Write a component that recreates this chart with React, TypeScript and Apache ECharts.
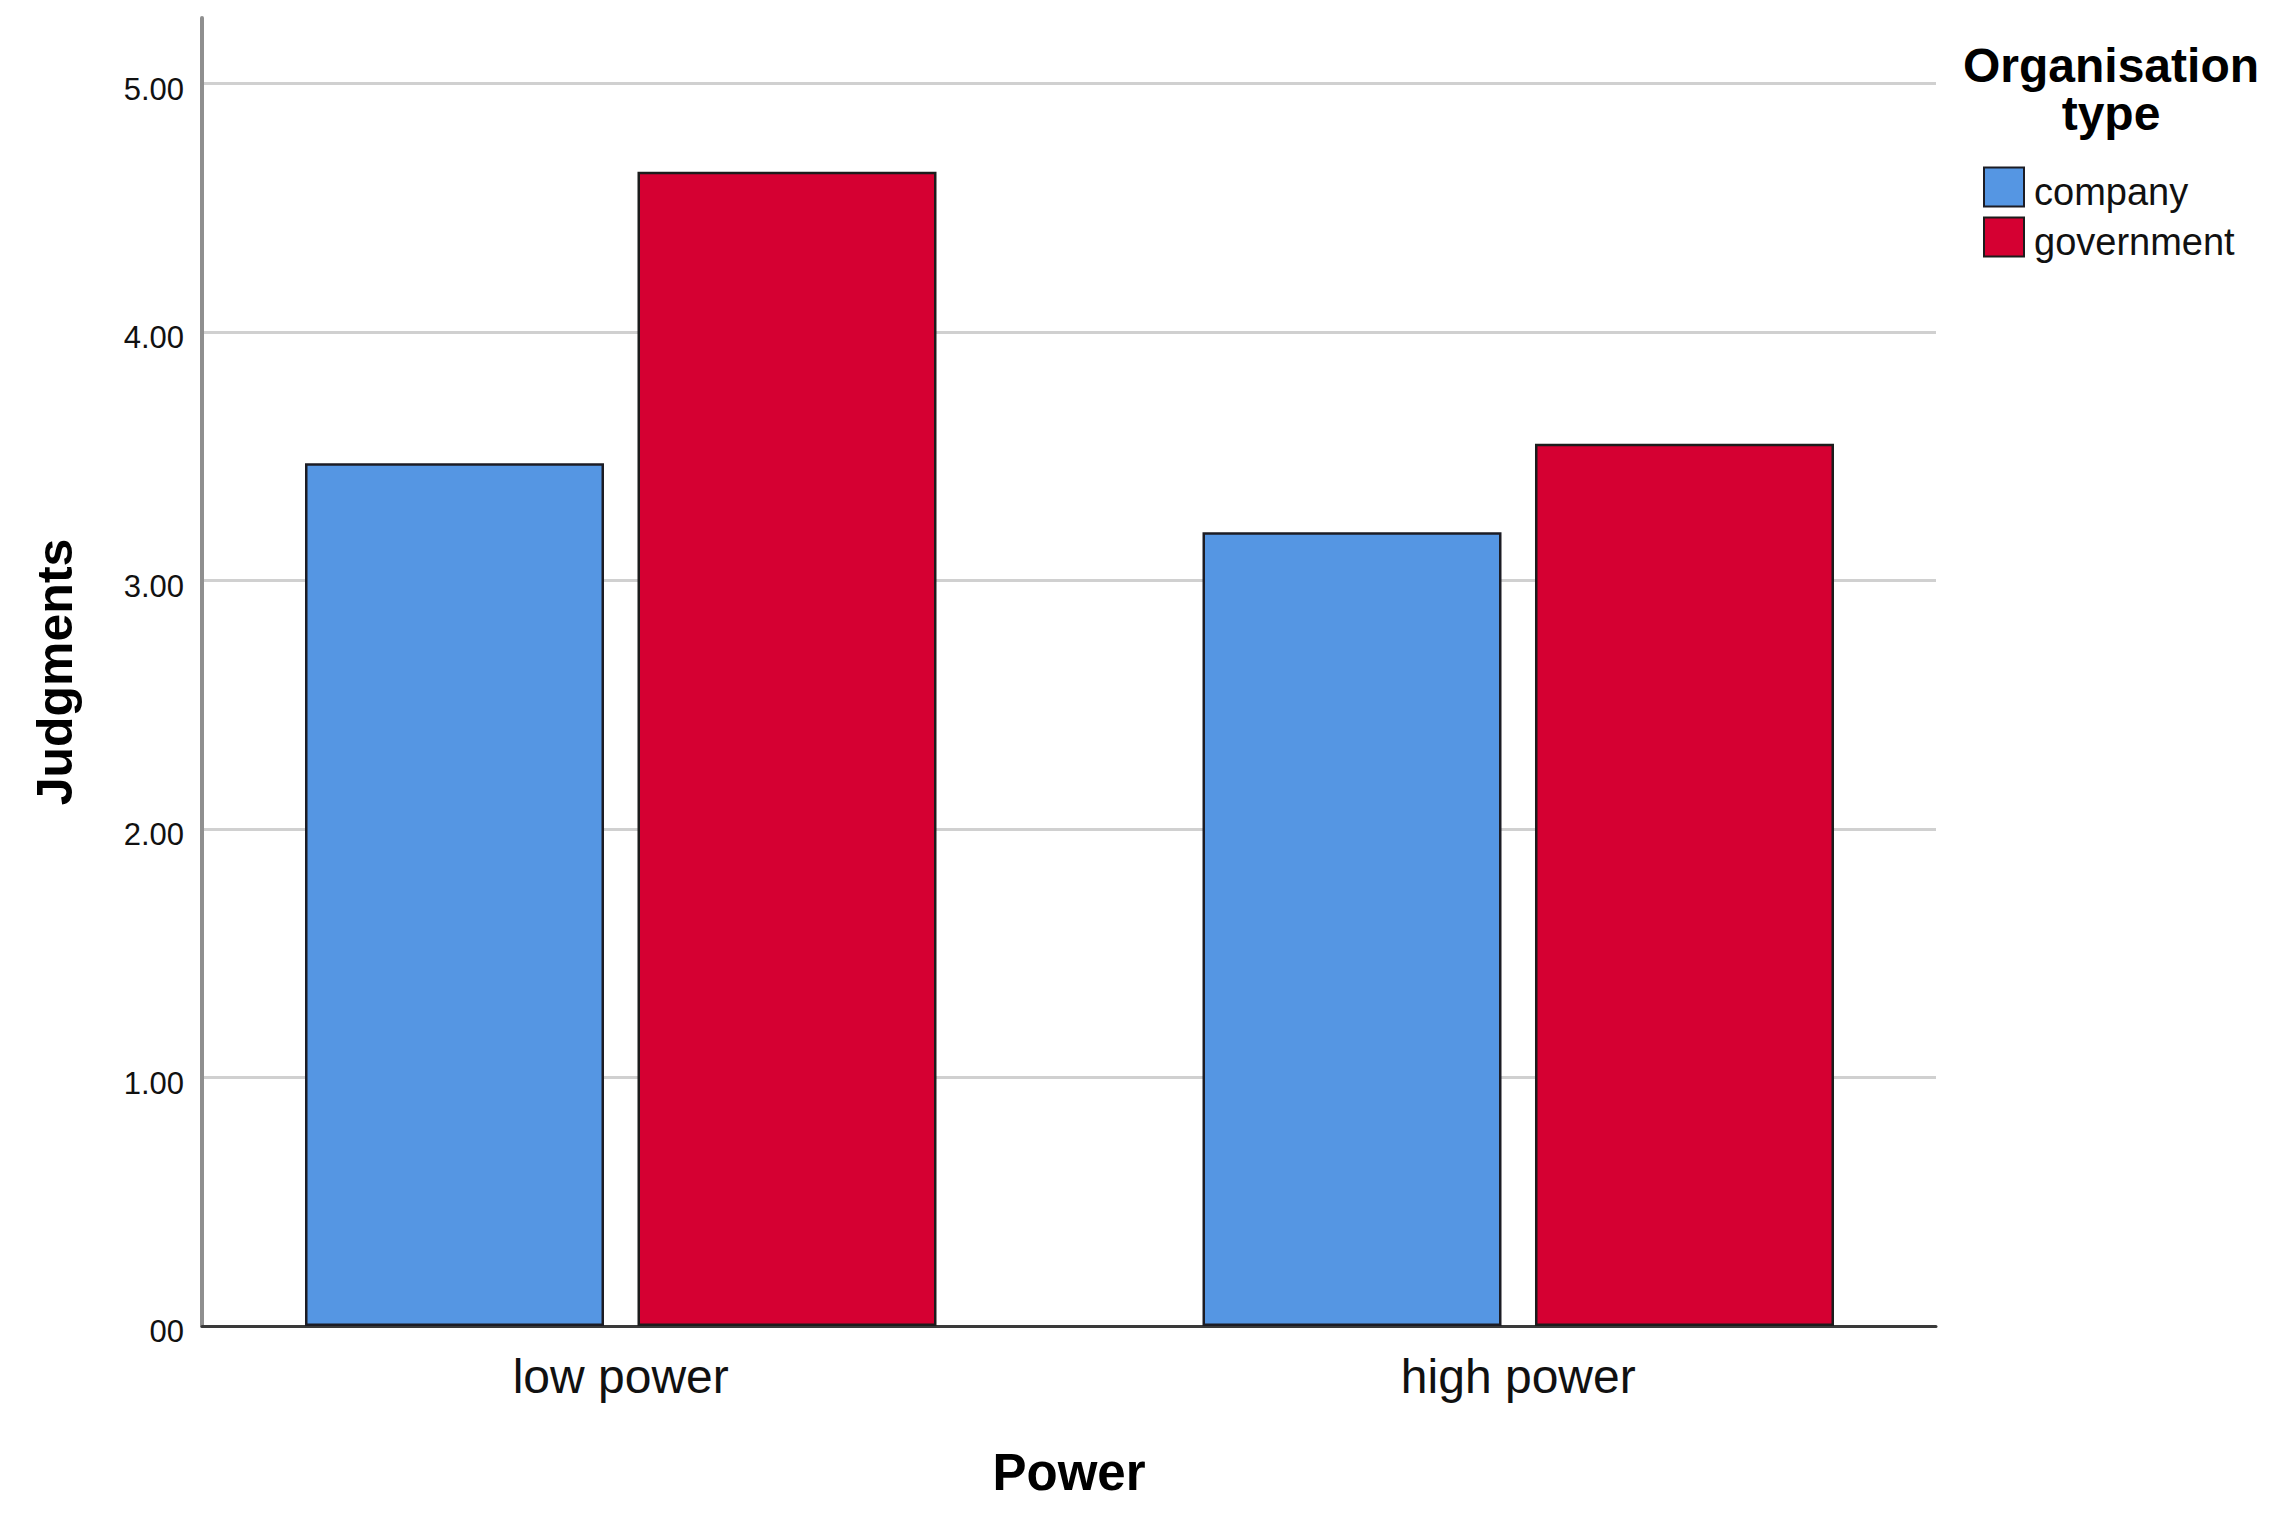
import React, { useEffect, useRef } from "react";
import * as echarts from "echarts";

const categories = ["low power", "high power"];
const seriesNames = ["company", "government"];
const companyValues = [3.472, 3.194];
const governmentValues = [4.645, 3.55];
const yTickValues = [0, 1, 2, 3, 4, 5];
const yTickLabels = ["00", "1.00", "2.00", "3.00", "4.00", "5.00"];
const xAxisTitle = "Power";
const yAxisTitle = "Judgments";
const legendTitle = "Organisation\ntype";

const FONT = "'Liberation Sans', Arial, sans-serif";
const Y_MAX = 5.2636;

export default function App() {
  const ref = useRef<HTMLDivElement>(null);
  useEffect(() => {
    if (!ref.current) return;
    const chart = echarts.init(ref.current, undefined, { renderer: "svg" });
    const fmt = (v: number) => {
      const i = yTickValues.indexOf(Math.round(v * 1000) / 1000);
      return i >= 0 ? yTickLabels[i] : "";
    };
    chart.setOption({
      animation: false,
      backgroundColor: "#ffffff",
      textStyle: { fontFamily: FONT },
      grid: [
        { left: 202, top: 18, width: 1734, height: 1308, containLabel: false },
        { left: 172, top: 18, width: 1795, height: 1308, containLabel: false },
      ],
      xAxis: [
        {
          type: "category",
          gridIndex: 0,
          data: categories,
          axisLine: { show: true, lineStyle: { color: "#3a3a3a", width: 3 } },
          axisTick: { show: false },
          axisLabel: { show: false },
          splitLine: { show: false },
          name: xAxisTitle,
          nameLocation: "middle",
          nameGap: 121,
          nameTextStyle: {
            fontFamily: FONT,
            fontSize: 51,
            fontWeight: "bold",
            color: "#000",
            lineHeight: 51,
          },
        },
        {
          type: "category",
          gridIndex: 1,
          data: categories,
          axisLine: { show: false },
          axisTick: { show: false },
          splitLine: { show: false },
          axisLabel: {
            show: true,
            fontFamily: FONT,
            fontSize: 48,
            lineHeight: 48,
            color: "#111",
            margin: 26,
          },
        },
      ],
      yAxis: [
        {
          type: "value",
          gridIndex: 0,
          min: 0,
          max: Y_MAX,
          interval: 1,
          axisLine: { show: true, lineStyle: { color: "#8f8f8f", width: 4 } },
          axisTick: { show: false },
          axisLabel: {
            show: true,
            formatter: fmt,
            fontFamily: FONT,
            fontSize: 31,
            color: "#111",
            margin: 18,
            verticalAlign: "top",
            lineHeight: 11,
            showMaxLabel: false,
          },
          splitLine: {
            show: true,
            showMaxLine: false,
            showMinLine: false,
            lineStyle: { color: "#d0d0d0", width: 3 },
          },
          name: yAxisTitle,
          nameLocation: "middle",
          nameGap: 122,
          nameTextStyle: {
            fontFamily: FONT,
            fontSize: 50,
            fontWeight: "bold",
            color: "#000",
            lineHeight: 50,
          },
        },
        {
          type: "value",
          gridIndex: 1,
          min: 0,
          max: Y_MAX,
          interval: 1,
          show: false,
          splitLine: { show: false },
        },
      ],
      legend: {
        orient: "vertical",
        left: 1978,
        top: 158,
        itemWidth: 40,
        itemHeight: 39,
        itemGap: 2,
        icon: "rect",
        data: seriesNames,
        formatter: "{a|{name}}",
        textStyle: {
          fontFamily: FONT,
          fontSize: 38,
          color: "#111",
          rich: {
            a: {
              fontFamily: FONT,
              fontSize: 38,
              lineHeight: 29,
              color: "#111",
              padding: [10, 0, 0, 5],
            },
          },
        },
      },
      graphic: [
        {
          type: "text",
          x: 2111,
          y: 41,
          style: {
            text: legendTitle,
            font: `bold 48px ${FONT}`,
            fill: "#000",
            align: "center",
            verticalAlign: "top",
            lineHeight: 48,
          },
        },
      ],
      series: [
        {
          name: seriesNames[0],
          type: "bar",
          xAxisIndex: 1,
          yAxisIndex: 1,
          data: companyValues,
          barWidth: 299,
          barGap: "11.2%",
          itemStyle: { color: "#5596e3", borderColor: "#1c1c24", borderWidth: 2.5 },
        },
        {
          name: seriesNames[1],
          type: "bar",
          xAxisIndex: 1,
          yAxisIndex: 1,
          data: governmentValues,
          barWidth: 299,
          barGap: "11.2%",
          itemStyle: { color: "#d50032", borderColor: "#1c1c1c", borderWidth: 2.5 },
        },
      ],
    });
    return () => chart.dispose();
  }, []);
  return (
    <div
      ref={ref}
      style={{ position: "absolute", left: 0, top: 0, width: 2281, height: 1514 }}
    />
  );
}
